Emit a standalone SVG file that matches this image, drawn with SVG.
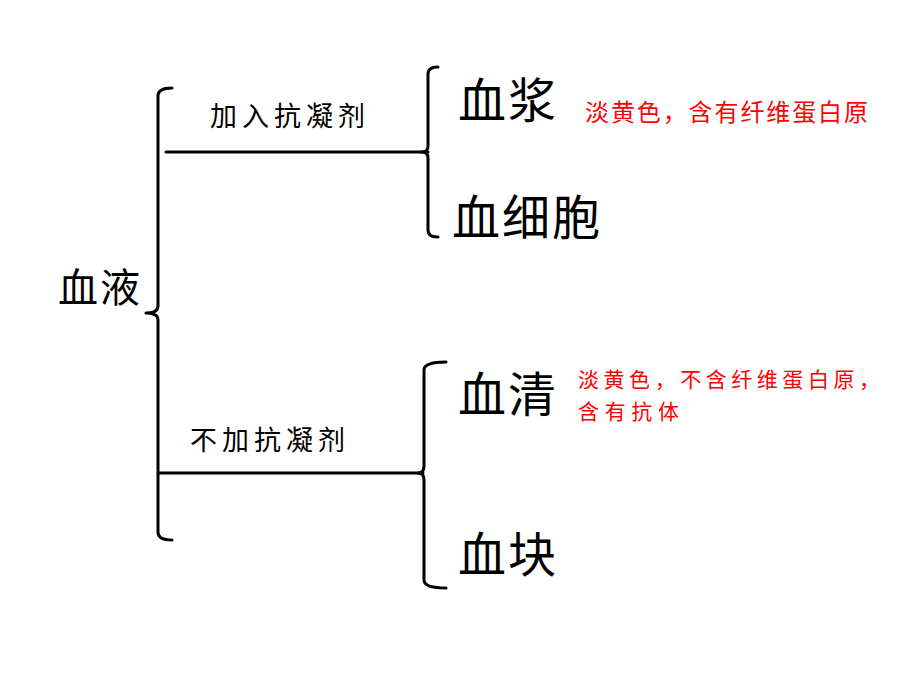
<svg xmlns="http://www.w3.org/2000/svg" width="920" height="690" viewBox="0 0 920 690">
<style>
.br{fill:none;stroke:#000;stroke-width:3;stroke-linejoin:round;stroke-linecap:round}
.t{font-family:"Noto Sans CJK SC","Noto Sans",sans-serif;fill:#000}
.r{font-family:"Noto Sans CJK SC","Noto Sans",sans-serif;fill:#ff0000;font-size:24px}
.r2{font-family:"Noto Sans CJK SC","Noto Sans",sans-serif;fill:#ff0000;font-size:21px}
</style>
<rect width="920" height="690" fill="#fff"/>
<g id="connectors">
<path class="br" d="M172,88 Q158,88 158,96 L158,306 Q158,313 146,313 Q158,313 158,320 L158,532 Q158,540 172,540"/>
<line class="br" x1="166" y1="152" x2="428" y2="152"/>
<line class="br" x1="159" y1="473" x2="423" y2="473"/>
<path class="br" d="M438,67 Q428,67 428,74 L428,146 Q428,152 422,152 Q428,152 428,158 L428,230 Q428,237 438,237"/>
<path class="br" d="M446,362 Q424,362 424,370 L424,466 Q424,473 418,473 Q424,473 424,480 L424,580 Q424,588 446,588"/>
</g>
<g id="root"><text class="t" x="58" y="302" font-size="40" textLength="82">血液</text></g>
<g id="label1"><text class="t" x="210" y="126" font-size="27" textLength="155">加入抗凝剂</text></g>
<g id="label2"><text class="t" x="190" y="450" font-size="27" textLength="155">不加抗凝剂</text></g>
<g id="plasma"><text class="t" x="458" y="118" font-size="48" textLength="98">血浆</text></g>
<g id="cells"><text class="t" x="452" y="235" font-size="48" textLength="148">血细胞</text></g>
<g id="serum"><text class="t" x="458" y="412" font-size="48" textLength="98">血清</text></g>
<g id="clot"><text class="t" x="458" y="572" font-size="48" textLength="98">血块</text></g>
<g id="note1"><text class="r" x="585" y="121" textLength="283">淡黄色，含有纤维蛋白原</text></g>
<g id="note2"><text class="r2" x="578" y="387" textLength="302">淡黄色，不含纤维蛋白原，</text><text class="r2" x="578" y="419" textLength="101">含有抗体</text></g>
</svg>
